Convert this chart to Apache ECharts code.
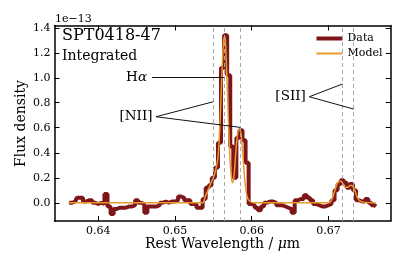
<!DOCTYPE html>
<html><head><meta charset="utf-8">
<script src="https://cdn.jsdelivr.net/npm/echarts@6/dist/echarts.min.js"></script>
<style>html,body{margin:0;padding:0;background:#fff}#c{width:407px;height:271px}</style>
</head><body><div id="c"></div>
<script>
const dataWl = [0.6362,0.6366,0.6370,0.6374,0.6378,0.6382,0.6386,0.6390,0.6394,0.6398,
0.6402,0.6406,0.6410,0.6414,0.6418,0.6422,0.6426,0.6430,0.6434,0.6438,
0.6442,0.6446,0.6450,0.6454,0.6458,0.6462,0.6466,0.6470,0.6474,0.6478,
0.6482,0.6486,0.6490,0.6494,0.6498,0.6502,0.6506,0.6510,0.6514,0.6518,
0.6522,0.6526,0.6530,0.6534,0.6538,0.6542,0.6546,0.6550,0.6554,0.6558,
0.6562,0.6566,0.6570,0.6574,0.6578,0.6582,0.6586,0.6590,0.6594,0.6598,
0.6602,0.6606,0.6610,0.6614,0.6618,0.6622,0.6626,0.6630,0.6634,0.6638,
0.6642,0.6646,0.6650,0.6654,0.6658,0.6662,0.6666,0.6670,0.6674,0.6678,
0.6682,0.6686,0.6690,0.6694,0.6698,0.6702,0.6706,0.6710,0.6714,0.6718,
0.6722,0.6726,0.6730,0.6734,0.6738,0.6742,0.6746,0.6750,0.6754,0.6758,
0.6762];
const dataFlux = [0.00,0.00,0.01,0.04,0.04,0.01,0.02,0.02,0.00,-0.01,
0.00,-0.01,0.07,-0.03,-0.09,-0.05,-0.04,-0.04,-0.04,-0.03,
-0.03,-0.02,0.02,0.00,-0.01,-0.08,-0.03,-0.03,-0.03,-0.02,
0.00,0.01,0.00,0.01,0.01,0.02,0.05,0.04,0.02,0.02,
-0.01,-0.01,-0.04,-0.04,0.03,0.12,0.14,0.20,0.28,0.48,
1.08,1.34,1.02,0.45,0.20,0.52,0.58,0.50,0.32,-0.01,
-0.02,-0.04,-0.06,-0.03,0.00,0.01,0.01,0.00,-0.02,-0.02,
-0.03,-0.04,-0.05,-0.08,0.02,0.03,0.03,0.06,0.04,0.02,
-0.01,-0.02,-0.03,-0.03,-0.02,-0.01,0.02,0.10,0.15,0.18,
0.16,0.12,0.15,0.10,0.02,0.01,0.01,0.03,0.00,-0.02,
-0.03];
const modelWl = [0.6361,0.6450,0.6536,0.6538,0.6540,0.6543,0.6547,0.6550,0.6553,0.6556,
0.6558,0.6560,0.6562,0.65635,0.6565,0.6566,0.6568,0.6570,0.6572,0.6574,
0.6575,0.6577,0.6579,0.6581,0.6583,0.6585,0.6587,0.6589,0.6591,0.6593,
0.6595,0.6598,0.6602,0.6650,0.6700,0.6703,0.6706,0.6709,0.6712,0.6716,
0.6719,0.6722,0.6725,0.6729,0.6732,0.6735,0.6738,0.6741,0.6745,0.6762];
const modelFlux = [0.00,0.00,0.00,0.02,0.06,0.10,0.16,0.20,0.26,0.36,
0.55,0.85,1.15,1.30,1.33,1.25,0.95,0.60,0.32,0.18,
0.16,0.22,0.38,0.52,0.58,0.58,0.50,0.34,0.18,0.08,
0.03,0.01,0.00,0.00,0.00,0.01,0.05,0.11,0.16,0.175,
0.15,0.125,0.125,0.14,0.13,0.09,0.04,0.015,0.005,0.00];
const lineWl = [0.65499, 0.65646, 0.65853, 0.67183, 0.67327];
const xTicks = [0.64, 0.65, 0.66, 0.67];
const yTicks = [0.0, 0.2, 0.4, 0.6, 0.8, 1.0, 1.2, 1.4];
const annLabels = ['Hα', '[NII]', '[SII]'];
const annFrom = [[0.6470, 1.0], [0.64752, 0.688], [0.66751, 0.848]];
const annTo = [[[0.65646, 1.0]], [[0.65499, 0.808], [0.65853, 0.603]], [[0.67183, 0.95], [0.67327, 0.75]]];

const FONT = 'DejaVu Serif';
const X_MIN = 0.63429, X_MAX = 0.67812, Y_MIN = -0.146, Y_MAX = 1.418;
const chart = echarts.init(document.getElementById('c'), null, {renderer: 'canvas'});
const mkAxis = (extra) => Object.assign({
  type: 'value', scale: true,
  axisLine: {show: true, onZero: false, lineStyle: {color: '#000', width: 1.5}},
  splitLine: {show: false}, splitArea: {show: false}, minorTick: {show: false}, minorSplitLine: {show: false}
}, extra);
const annLineData = [];
annFrom.forEach((f, i) => annTo[i].forEach(t => annLineData.push([{coord: f}, {coord: t}])));
const vLineData = lineWl.map(v => [{coord: [v, Y_MIN]}, {coord: [v, Y_MAX]}]);

chart.setOption({
  animation: false,
  grid: {left: 54.5, right: 16.3, top: 25.5, bottom: 50, containLabel: false},
  xAxis: [
    mkAxis({min: X_MIN, max: X_MAX, position: 'bottom',
      axisTick: {show: true, inside: true, length: 5, lineStyle: {color: '#000'}, customValues: xTicks},
      axisLabel: {show: true, margin: 5, color: '#000', fontFamily: FONT, fontSize: 11, customValues: xTicks, formatter: v => v.toFixed(2)}}),
    mkAxis({min: X_MIN, max: X_MAX, position: 'top',
      axisTick: {show: true, inside: true, length: 5, lineStyle: {color: '#000'}, customValues: xTicks},
      axisLabel: {show: false}})
  ],
  yAxis: [
    mkAxis({min: Y_MIN, max: Y_MAX, position: 'left',
      axisTick: {show: true, inside: true, length: 5, lineStyle: {color: '#000'}, customValues: yTicks},
      axisLabel: {show: true, margin: 4, color: '#000', fontFamily: FONT, fontSize: 11, customValues: yTicks, formatter: v => v.toFixed(1)}}),
    mkAxis({min: Y_MIN, max: Y_MAX, position: 'right',
      axisTick: {show: true, inside: true, length: 5, lineStyle: {color: '#000'}, customValues: yTicks},
      axisLabel: {show: false}})
  ],
  legend: [
    {data: [{name: 'Data', icon: 'rect'}], left: 316.5, top: 33, padding: 0, itemWidth: 26, itemHeight: 4, selectedMode: false,
      textStyle: {fontFamily: FONT, fontSize: 11, color: '#000'}},
    {data: [{name: 'Model', icon: 'rect'}], left: 316.5, top: 48, padding: 0, itemWidth: 26, itemHeight: 2, selectedMode: false,
      textStyle: {fontFamily: FONT, fontSize: 11, color: '#000'}}
  ],
  series: [
    {name: 'Data', type: 'line', step: 'middle', showSymbol: false, symbol: 'none', z: 2,
      data: dataWl.map((w, i) => [w, dataFlux[i]]),
      itemStyle: {color: '#7e1518'},
      lineStyle: {color: '#7e1518', width: 4}},
    {name: 'Model', type: 'line', smooth: 0.35, showSymbol: false, symbol: 'none', z: 3,
      data: modelWl.map((w, i) => [w, modelFlux[i]]),
      itemStyle: {color: '#e89a2c'},
      lineStyle: {color: '#e89a2c', width: 1.5}},
    {name: 'lines', type: 'line', data: [], z: 4, silent: true,
      markLine: {symbol: ['none', 'none'], silent: true, animation: false, label: {show: false},
        lineStyle: {color: '#a8a8a8', type: [4, 3], width: 1},
        data: vLineData}},
    {name: 'ann', type: 'line', data: [], z: 5, silent: true,
      markLine: {symbol: ['none', 'none'], silent: true, animation: false, label: {show: false},
        lineStyle: {color: '#111', type: 'solid', width: 1},
        data: annLineData}}
  ]
});

const g = [];
const rich = {n: {fontFamily: FONT, fontSize: 13.5, fill: '#000'}, i: {fontFamily: FONT, fontSize: 13.5, fontStyle: 'italic', fill: '#000'}};
annLabels.forEach((lab, i) => {
  const p = chart.convertToPixel({xAxisIndex: 0, yAxisIndex: 0}, annFrom[i]);
  const txt = lab === 'Hα' ? '{n|H}{i|α}' : '{n|' + lab + '}';
  g.push({type: 'text', x: p[0] - (i === 0 ? 5 : 3.5), y: p[1], style: {text: txt, rich: rich, align: 'right', verticalAlign: 'middle', font: '13.5px ' + FONT}});
});
g.push({type: 'text', x: 62, y: 36, style: {text: 'SPT0418-47', font: '16px "' + FONT + '"', fill: '#000', verticalAlign: 'middle'}});
g.push({type: 'text', x: 62, y: 56, style: {text: 'Integrated', font: '14px "' + FONT + '"', fill: '#000', verticalAlign: 'middle'}});
g.push({type: 'text', x: 55, y: 19, style: {text: '1e\u221213', font: '11px "' + FONT + '"', fill: '#000', verticalAlign: 'middle'}});
g.push({type: 'text', x: 21.5, y: 123.5, rotation: Math.PI / 2, style: {text: 'Flux density', font: '14px "' + FONT + '"', fill: '#000', align: 'center', verticalAlign: 'middle'}});
g.push({type: 'text', x: 222.5, y: 244, style: {text: '{n|Rest Wavelength / }{i|μ}{n|m}', rich: {n: {fontFamily: FONT, fontSize: 14, fill: '#000'}, i: {fontFamily: FONT, fontSize: 14, fontStyle: 'italic', fill: '#000'}}, align: 'center', verticalAlign: 'middle', font: '14px ' + FONT}});
chart.setOption({graphic: g});
</script></body></html>
